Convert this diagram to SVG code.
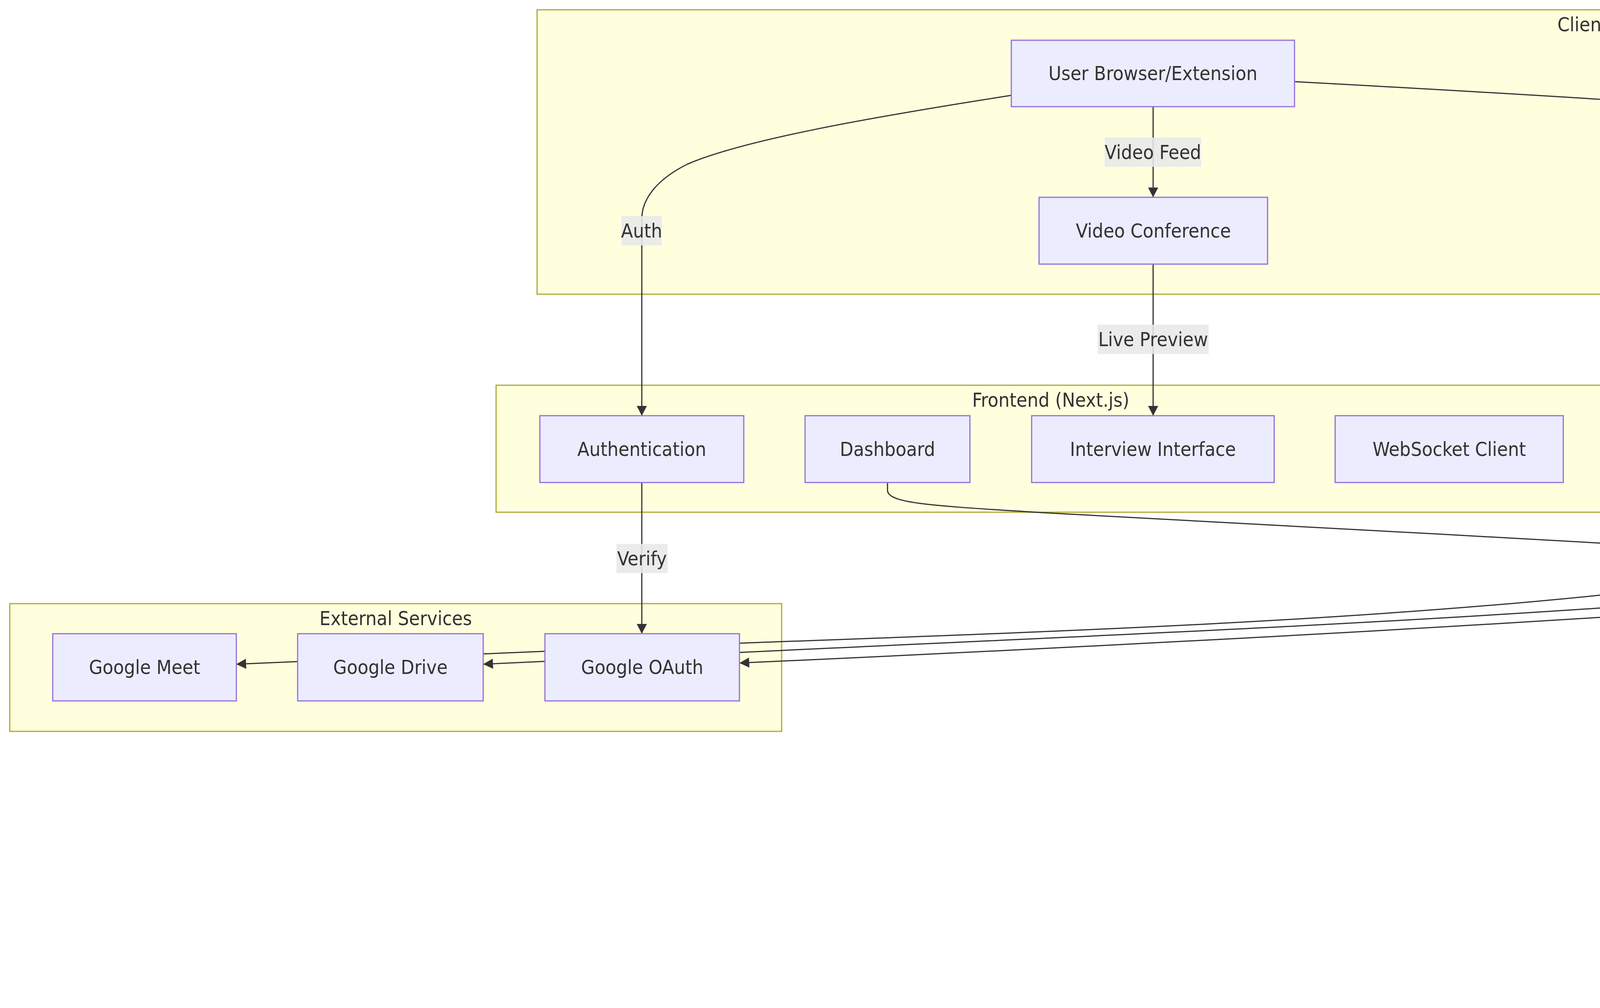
<svg xmlns="http://www.w3.org/2000/svg" width="7840" height="2580" viewBox="0 0 7840 2580">
<style>
.cl{fill:#ffffde;stroke:#aaaa33;stroke-width:3}
.nd{fill:#ececff;stroke:#9370db;stroke-width:3}
.t{font-family:"DejaVu Sans Condensed","DejaVu Sans",sans-serif;font-stretch:condensed;font-size:50px;fill:#333333;text-anchor:middle;dominant-baseline:central}
.e{fill:none;stroke:#333333;stroke-width:3;marker-end:url(#arr)}
.lb{fill:#e8e8e8;fill-opacity:0.88}
</style>
<defs>
<marker id="arr" markerUnits="userSpaceOnUse" markerWidth="26" markerHeight="26" refX="24" refY="12.5" orient="auto" viewBox="0 0 24 25">
<path d="M0,0 L24,12.5 L0,25 z" fill="#333333"/>
</marker>
</defs>
<rect width="7840" height="2580" fill="#ffffff"/>
<g id="clusters">
<g id="cluster-client"><rect class="cl" x="1375" y="25" width="5355" height="728"/><text class="t" x="4052" y="63">Client</text></g>
<g id="cluster-frontend"><rect class="cl" x="1270" y="986" width="2840" height="325"/><text class="t" x="2690" y="1024">Frontend (Next.js)</text></g>
<g id="cluster-backend"><rect class="cl" x="4176" y="986" width="3448" height="886"/><text class="t" x="5900" y="1025">Backend (FastAPI)</text></g>
<g id="cluster-external"><rect class="cl" x="25" y="1545" width="1976" height="327"/><text class="t" x="1013" y="1583">External Services</text></g>
<g id="cluster-database"><rect class="cl" x="4983" y="2104" width="760" height="415"/><text class="t" x="5363" y="2142">Database</text></g>
<g id="cluster-ai"><rect class="cl" x="5806" y="2104" width="1927" height="415"/><text class="t" x="6769" y="2142">AI Services</text></g>
</g>
<g id="connectors">
<path class="e" d="M2952,273 L2952,505"/>
<path class="e" d="M2589,244 C2200,305 1900,360 1760,420 C1680,460 1643,510 1643,560 L1643,1064"/>
<path class="e" d="M3314,209 C4300,262 5500,340 6202,438 C6400,466 6458,530 6458,580 L6458,1063"/>
<path class="e" d="M2952,676 L2952,1064"/>
<path class="e" d="M1643,1235 L1643,1622"/>
<path class="e" d="M2272,1235 L2272,1255 C2272,1290 2400,1295 2665,1312 C3100,1340 4100,1385 4600,1418 C4950,1445 5100,1462 5180,1495 C5225,1515 5232,1540 5232,1580 L5232,1622"/>
<path class="e" d="M4590,1235 C4470,1300 4409,1340 4409,1400 L4409,1440 C4409,1485 4280,1500 4100,1523 C3400,1595 2600,1620 1900,1646 L605,1700"/>
<path class="e" d="M4776,1235 C4768,1300 4761,1350 4761,1400 L4761,1440 C4761,1500 4500,1535 4100,1556 C3300,1610 2500,1640 1893,1670 L1237,1700"/>
<path class="e" d="M4899,1235 C4960,1300 4994,1340 4994,1400 L4994,1440 C4994,1500 4800,1540 4100,1580 C3300,1630 2600,1665 1893,1697"/>
<path class="e" d="M6458,1235 L6458,1622"/>
<path class="e" d="M5233,1794 L5233,2040 C5233,2110 5270,2140 5279,2183"/>
<path class="e" d="M6244,1746 C5950,1800 5700,1840 5600,1885 C5540,1915 5525,1940 5525,1970 L5525,2040 C5525,2110 5485,2140 5477,2183"/>
<path class="e" d="M6282,1795 C6200,1880 6123,1890 6123,1960 L6123,2226"/>
<path class="e" d="M6611,1795 C6700,1880 6747,1890 6747,1960 L6747,2226"/>
<path class="e" d="M6671,1746 C7000,1800 7394,1860 7394,1960 L7394,2226"/>
</g>
<g id="edge-labels">
<g><rect class="lb" x="2828" y="352" width="247" height="75"/><text class="t" x="2951.5" y="389.5">Video Feed</text></g>
<g><rect class="lb" x="1591" y="553" width="103" height="75"/><text class="t" x="1642.5" y="590.5">Auth</text></g>
<g><rect class="lb" x="6246" y="553" width="425" height="75"/><text class="t" x="6458.5" y="590.5">Stream to Backend</text></g>
<g><rect class="lb" x="2810" y="831" width="284" height="75"/><text class="t" x="2952" y="868.5">Live Preview</text></g>
<g><rect class="lb" x="1578" y="1392" width="131" height="75"/><text class="t" x="1643.5" y="1429.5">Verify</text></g>
<g><rect class="lb" x="4238" y="1392" width="342" height="75"/><text class="t" x="4409" y="1429.5">Create Meeting</text></g>
<g><rect class="lb" x="4644" y="1392" width="234" height="75"/><text class="t" x="4761" y="1429.5">Store Data</text></g>
<g><rect class="lb" x="4943" y="1392" width="101" height="75"/><text class="t" x="4993.5" y="1429.5">Auth</text></g>
<g><rect class="lb" x="5110" y="1392" width="246" height="75"/><text class="t" x="5233" y="1429.5">Fetch Data</text></g>
<g><rect class="lb" x="6375" y="1392" width="165" height="75"/><text class="t" x="6457.5" y="1429.5">Process</text></g>
<g><rect class="lb" x="5172" y="1951" width="120" height="75"/><text class="t" x="5232" y="1988.5">CRUD</text></g>
<g><rect class="lb" x="5372" y="1951" width="307" height="75"/><text class="t" x="5525.5" y="1988.5">Store Analysis</text></g>
<g><rect class="lb" x="6013" y="1951" width="219" height="75"/><text class="t" x="6122.5" y="1988.5">Questions</text></g>
<g><rect class="lb" x="6646" y="1951" width="203" height="75"/><text class="t" x="6747.5" y="1988.5">Emotions</text></g>
<g><rect class="lb" x="7249" y="1951" width="290" height="75"/><text class="t" x="7394" y="1988.5">Transcription</text></g>
</g>
<g id="node-user-browser"><rect class="nd" x="2589" y="103" width="725" height="170"/><text class="t" x="2951.5" y="188">User Browser/Extension</text></g>
<g id="node-video-conference"><rect class="nd" x="2660" y="505" width="585" height="171"/><text class="t" x="2952.5" y="590.5">Video Conference</text></g>
<g id="node-authentication"><rect class="nd" x="1382" y="1064" width="522" height="171"/><text class="t" x="1643" y="1149.5">Authentication</text></g>
<g id="node-dashboard"><rect class="nd" x="2061" y="1064" width="422" height="171"/><text class="t" x="2272" y="1149.5">Dashboard</text></g>
<g id="node-interview-interface"><rect class="nd" x="2641" y="1064" width="621" height="171"/><text class="t" x="2951.5" y="1149.5">Interview Interface</text></g>
<g id="node-websocket-client"><rect class="nd" x="3418" y="1064" width="584" height="171"/><text class="t" x="3710" y="1149.5">WebSocket Client</text></g>
<g id="node-google-api-manager"><rect class="nd" x="4479" y="1064" width="629" height="171"/><text class="t" x="4793.5" y="1149.5">Google API Manager</text></g>
<g id="node-websocket-server"><rect class="nd" x="6162" y="1064" width="592" height="171"/><text class="t" x="6458" y="1149.5">WebSocket Server</text></g>
<g id="node-api-gateway"><rect class="nd" x="4995" y="1622" width="473" height="172"/><text class="t" x="5231.5" y="1708">API Gateway</text></g>
<g id="node-ai-pipeline"><rect class="nd" x="6244" y="1622" width="427" height="172"/><text class="t" x="6457.5" y="1708">AI Pipeline</text></g>
<g id="node-google-meet"><rect class="nd" x="135" y="1622" width="470" height="172"/><text class="t" x="370" y="1708">Google Meet</text></g>
<g id="node-google-drive"><rect class="nd" x="762" y="1622" width="475" height="172"/><text class="t" x="999.5" y="1708">Google Drive</text></g>
<g id="node-google-oauth"><rect class="nd" x="1395" y="1622" width="498" height="172"/><text class="t" x="1644" y="1708">Google OAuth</text></g>
<g id="node-database"><path class="nd" d="M5110,2227.5 a262,44.5 0 0,0 524,0 a262,44.5 0 0,0 -524,0 l0,169 a262,44.5 0 0,0 524,0 l0,-169"/><text class="t" x="5372" y="2343">PostgreSQL/MongoDB</text></g>
<g id="node-llama"><rect class="nd" x="5915" y="2226" width="416" height="171"/><text class="t" x="6123" y="2311.5">LLaMA 3.1</text></g>
<g id="node-pypaz"><rect class="nd" x="6487" y="2226" width="520" height="171"/><text class="t" x="6747" y="2311.5">Pypaz Emotion</text></g>
<g id="node-whisper"><rect class="nd" x="7164" y="2226" width="460" height="171"/><text class="t" x="7394" y="2311.5">Whisper.cpp</text></g>
</svg>
